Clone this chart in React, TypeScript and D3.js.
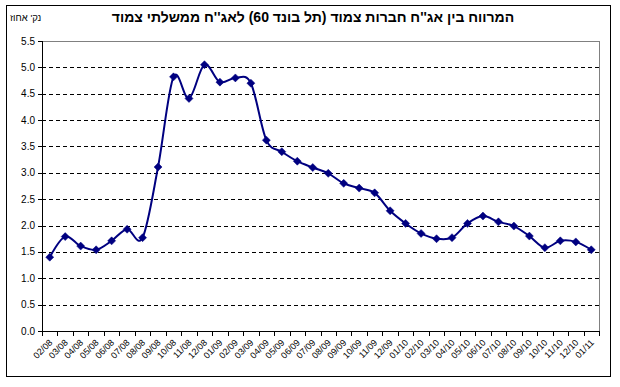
import React from "react";
import * as d3 from "d3";

const title = "המרווח בין אג''ח חברות צמוד (תל בונד 60) לאג''ח ממשלתי צמוד";
const unitLabel = "נק' אחוז";

const months = [
  "02/08", "03/08", "04/08", "05/08", "06/08", "07/08", "08/08", "09/08", "10/08", "11/08", "12/08",
  "01/09", "02/09", "03/09", "04/09", "05/09", "06/09", "07/09", "08/09", "09/09", "10/09", "11/09", "12/09",
  "01/10", "02/10", "03/10", "04/10", "05/10", "06/10", "07/10", "08/10", "09/10", "10/10", "11/10", "12/10",
  "01/11",
];

const spread = [
  1.40, 1.79, 1.61, 1.54, 1.71, 1.93, 1.77, 3.11, 4.82, 4.41, 5.05,
  4.72, 4.80, 4.70, 3.62, 3.40, 3.22, 3.10, 2.99, 2.80, 2.71, 2.62, 2.28,
  2.04, 1.85, 1.75, 1.77, 2.04, 2.18, 2.07, 1.99, 1.80, 1.58, 1.71, 1.69,
  1.54,
];

const yTicks = [0, 0.5, 1, 1.5, 2, 2.5, 3, 3.5, 4, 4.5, 5, 5.5];

const W = 620;
const H = 387;
const FONT = "'Liberation Sans', Arial, sans-serif";
const NAVY = "#000080";

export default function App() {
  const left = 42;
  const right = 599;
  const top = 41;
  const bottom = 331;

  const x = d3.scaleBand<string>().domain(months).range([left, right]).padding(0);
  const y = d3.scaleLinear().domain([0, 5.5]).range([bottom, top]);
  const cx = (m: string) => (x(m) as number) + x.bandwidth() / 2;

  const line = d3
    .line<number>()
    .x((_, i) => cx(months[i]))
    .y((d) => y(d))
    .curve(d3.curveCardinal.tension(0));

  const boundaries = d3.range(months.length + 1).map((i) => left + i * x.bandwidth());

  return (
    <svg
      width={W}
      height={H}
      style={{ position: "absolute", left: 0, top: 0, background: "#fff" }}
      fontFamily={FONT}
    >
      <rect x={0} y={0} width={W} height={H} fill="#fff" />
      <rect x={6.5} y={5.5} width={604} height={371} fill="none" stroke="#000" strokeWidth={1} />

      <text
        x={313}
        y={22}
        textAnchor="middle"
        fontSize={14}
        fontWeight="bold"
        direction="rtl"
        style={{ unicodeBidi: "plaintext" } as any}
      >
        {title}
      </text>
      <text x={10} y={21} fontSize={9.5} textAnchor="start">
        {unitLabel}
      </text>

      {/* grid */}
      {yTicks
        .filter((t) => t > 0 && t < 5.5)
        .map((t) => (
          <line
            key={"g" + t}
            x1={left}
            x2={right}
            y1={Math.round(y(t)) + 0.5}
            y2={Math.round(y(t)) + 0.5}
            stroke="#000"
            strokeDasharray="4 3"
            strokeWidth={1}
          />
        ))}
      {/* plot border top/right */}
      <line x1={left} x2={right + 0.5} y1={top + 0.5} y2={top + 0.5} stroke="#808080" />
      <line x1={right + 0.5} x2={right + 0.5} y1={top} y2={bottom} stroke="#808080" />

      {/* y axis */}
      <line x1={left + 0.5} x2={left + 0.5} y1={top} y2={bottom + 1} stroke="#000" />
      {yTicks.map((t) => (
        <g key={"y" + t}>
          <line
            x1={left - 4}
            x2={left}
            y1={Math.round(y(t)) + 0.5}
            y2={Math.round(y(t)) + 0.5}
            stroke="#000"
          />
          <text x={35} y={y(t)} dy="0.35em" textAnchor="end" fontSize={10}>
            {d3.format(".1f")(t)}
          </text>
        </g>
      ))}

      {/* x axis */}
      <line x1={left} x2={right + 1} y1={bottom + 0.5} y2={bottom + 0.5} stroke="#000" />
      {boundaries.map((b, i) => (
        <line
          key={"xt" + i}
          x1={Math.round(b) + 0.5}
          x2={Math.round(b) + 0.5}
          y1={bottom}
          y2={bottom + 5}
          stroke="#000"
        />
      ))}
      {months.map((m) => (
        <text
          key={"xl" + m}
          transform={`translate(${cx(m) + 1},${bottom + 10}) rotate(-45)`}
          textAnchor="end"
          fontSize={9}
          dy="0.35em"
        >
          {m}
        </text>
      ))}

      {/* series */}
      <path d={line(spread) as string} fill="none" stroke={NAVY} strokeWidth={2} />
      {spread.map((v, i) => {
        const px = cx(months[i]);
        const py = y(v);
        const r = 4;
        return (
          <path
            key={"m" + i}
            d={`M${px},${py - r}L${px + r},${py}L${px},${py + r}L${px - r},${py}Z`}
            fill={NAVY}
            stroke={NAVY}
            strokeWidth={0.5}
          />
        );
      })}
    </svg>
  );
}
